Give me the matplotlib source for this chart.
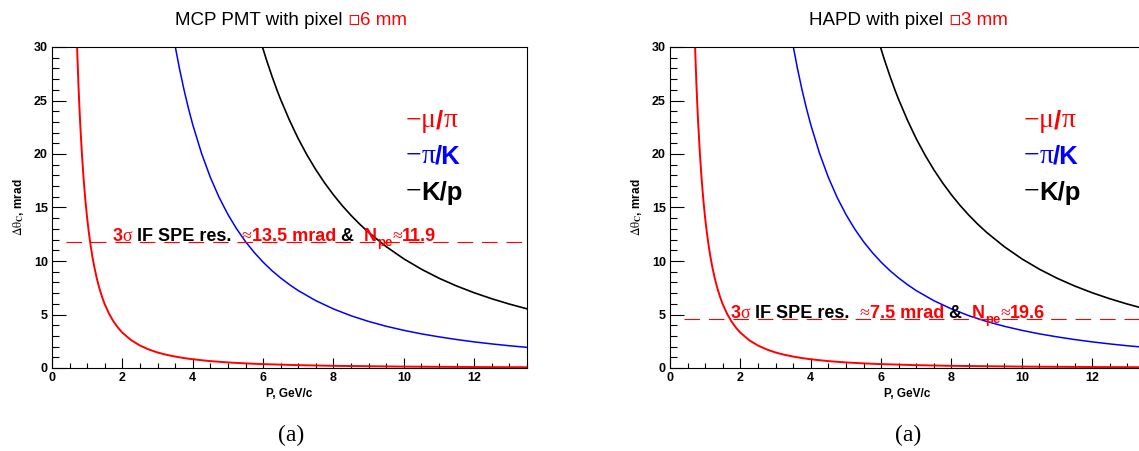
import matplotlib
matplotlib.use('Agg')
import matplotlib.pyplot as plt
from matplotlib.ticker import MultipleLocator

# Values: P in GeV/c, delta theta_C in mrad
p_mu_pi = [0.71, 0.72, 0.75, 0.775, 0.8, 0.85, 0.9, 0.95, 1.0, 1.05, 1.1, 1.15, 1.2, 1.275,
           1.35, 1.425, 1.5, 1.625, 1.75, 1.875, 2.0, 2.25, 2.5, 2.75, 3.0, 3.25, 3.5,
           3.75, 4.0, 4.5, 5.0, 5.5, 6.0, 7.0, 8.0, 10.0, 12.0, 13.5]
dth_mu_pi = [30.3, 29.31, 26.62, 24.67, 22.93, 20.02, 17.60, 15.63, 13.98, 12.59, 11.40,
             10.37, 9.48, 8.35, 7.41, 6.62, 5.95, 5.05, 4.34, 3.77, 3.30, 2.60, 2.10, 1.733,
             1.45, 1.237, 1.07, 0.929, 0.815, 0.644, 0.521, 0.431, 0.362, 0.266, 0.203,
             0.130, 0.090, 0.071]

p_pi_K = [3.5, 3.625, 3.75, 3.875, 4.0, 4.25, 4.5, 4.75, 5.0, 5.25, 5.5, 5.75, 6.0, 6.25,
          6.5, 6.75, 7.0, 7.5, 8.0, 8.5, 9.0, 9.5, 10.0, 10.5, 11.0, 11.5, 12.0, 12.5,
          13.0, 13.5]
dth_pi_K = [30.09, 27.95, 26.03, 24.30, 22.74, 20.06, 17.82, 15.94, 14.35, 12.99, 11.81,
            10.79, 9.89, 9.10, 8.41, 7.79, 7.23, 6.29, 5.52, 4.88, 4.35, 3.90, 3.52, 3.19,
            2.91, 2.66, 2.44, 2.25, 2.08, 1.93]

p_K_p = [5.97, 6.0, 6.1, 6.25, 6.4, 6.5, 6.75, 7.0, 7.25, 7.5, 7.75, 8.0, 8.25, 8.5, 8.75,
         9.0, 9.5, 10.0, 10.5, 11.0, 11.5, 12.0, 12.5, 13.0, 13.5]
dth_K_p = [30.1, 29.80, 28.75, 27.29, 25.92, 25.08, 23.15, 21.42, 19.89, 18.52, 17.29,
           16.18, 15.17, 14.26, 13.43, 12.67, 11.34, 10.20, 9.23, 8.39, 7.665, 7.03, 6.471,
           5.974, 5.53]

# One entry per panel
panel_titles = ['MCP PMT with pixel ', 'HAPD with pixel ']
pixel_sizes = ['6 mm', '3 mm']
cut_levels = [11.75, 4.55]
spe_res = ['13.5 mrad', '7.5 mrad']
n_pe = ['11.9', '19.6']
cut_start = 0.4

SANS = ['Liberation Sans', 'DejaVu Sans']
SERIF = ['Liberation Serif', 'DejaVu Serif']

plt.rcParams['font.family'] = SANS
plt.rcParams['mathtext.fontset'] = 'stix'


def chain_text(ax, x, y, pieces, transform):
    # draw text pieces one after another, each with its own colour/font
    arts = []
    prev_dy = 0
    for txt, color, props, dy in pieces:
        if not arts:
            t = ax.text(x, y, txt, color=color, transform=transform,
                        ha='left', va='baseline', **props)
        else:
            t = ax.annotate(txt, xy=(1, 0), xycoords=arts[-1], xytext=(0, dy - prev_dy),
                            textcoords='offset points', ha='left', va='bottom',
                            color=color, **props)
        arts.append(t)
        prev_dy = dy
    return arts


fig = plt.figure(figsize=(11.39, 4.51), dpi=100)
W, H = 1139, 451
axes_pos = [[52 / W, 1 - 368 / H, 475 / W, 321 / H],
            [670 / W, 1 - 368 / H, 475 / W, 321 / H]]
title_centers = [291, 908]

bold = dict(family=SANS, fontweight='bold', fontsize=13)
sym = dict(family=SERIF, fontsize=13)
sub = dict(family=SANS, fontweight='bold', fontsize=9.5)
leg_b = dict(family=SANS, fontweight='bold', fontsize=18.5)
leg_s = dict(family=SERIF, fontsize=20)

title_groups = []
for i in range(2):
    ax = fig.add_axes(axes_pos[i])

    # curves
    ax.plot(p_mu_pi, dth_mu_pi, color='#ff0000', lw=1.4)
    ax.plot(p_pi_K, dth_pi_K, color='#0000ff', lw=1.1)
    ax.plot(p_K_p, dth_K_p, color='black', lw=1.2)

    # 3 sigma level
    ax.hlines(cut_levels[i], cut_start, 13.5, color='#ff0000', lw=0.8, linestyles=(0, (14, 8)))

    ax.set_xlim(0, 13.5)
    ax.set_ylim(0, 30)
    ax.xaxis.set_major_locator(MultipleLocator(2))
    ax.xaxis.set_minor_locator(MultipleLocator(0.5))
    ax.yaxis.set_major_locator(MultipleLocator(5))
    ax.yaxis.set_minor_locator(MultipleLocator(1))
    ax.tick_params(which='both', direction='in', top=False, right=False, width=0.8)
    ax.tick_params(axis='y', which='major', length=10, pad=3, labelsize=9)
    ax.tick_params(axis='y', which='minor', length=5)
    ax.tick_params(axis='x', which='major', length=7, pad=3, labelsize=9)
    ax.tick_params(axis='x', which='minor', length=3.5)
    plt.setp(ax.get_xticklabels() + ax.get_yticklabels(), fontweight='bold')
    for s in ax.spines.values():
        s.set_linewidth(0.8)

    ax.set_xlabel('P, GeV/c', fontsize=8.5, fontweight='bold', labelpad=3)
    ax.set_ylabel(r'$\mathrm{\Delta\theta}_{\mathbf{C}}$, mrad', fontsize=8.5,
                  fontweight='bold', labelpad=6)

    # legend-like labels
    rows = [
        [('−', 'red', leg_s, 0), ('μ', 'red', leg_s, 0), ('/', 'red', leg_b, 0), ('π', 'red', leg_s, 0)],
        [('−', 'blue', leg_s, 0), ('π', 'blue', leg_s, 0), ('/K', 'blue', leg_b, 0)],
        [('−', 'black', leg_s, 0), ('K/p', 'black', leg_b, 0)],
    ]
    for row, yb in zip(rows, [22.5, 19.2, 15.8]):
        chain_text(ax, 10.05, yb, row, ax.transData)

    # annotation on the dashed line
    note = [('3', 'red', bold, 0), ('σ', 'red', sym, 0), (' IF SPE res.  ', 'black', bold, 0),
            ('≈', 'red', sym, 0), (spe_res[i], 'red', bold, 0), (' & ', 'black', bold, 0),
            (' N', 'red', bold, 0), ('pe', 'red', sub, -3), ('≈', 'red', sym, 0),
            (n_pe[i], 'red', bold, 0)]
    chain_text(ax, 1.73, cut_levels[i] + 0.12, note, ax.transData)

    # panel title
    tpieces = [(panel_titles[i], 'black', dict(family=SANS, fontsize=13.5), 0),
               ('▫', 'red', dict(family=['DejaVu Sans'], fontsize=13.5), 0),
               (pixel_sizes[i], 'red', dict(family=SANS, fontsize=13.5), 0)]
    title_groups.append(chain_text(ax, 0.2, 1 - 25 / H, tpieces, fig.transFigure))

    fig.text(title_centers[i] / W, 1 - 435 / H, '(a)', family=SERIF, fontsize=17,
             ha='center', va='center')

# center each multi-colour title over its panel
fig.canvas.draw()
r = fig.canvas.get_renderer()
for arts, cx in zip(title_groups, title_centers):
    x0 = min(a.get_window_extent(r).x0 for a in arts)
    x1 = max(a.get_window_extent(r).x1 for a in arts)
    x, y = arts[0].get_position()
    arts[0].set_position((x + (cx - (x0 + x1) / 2) / W, y))

fig.savefig('out.png', dpi=100)
